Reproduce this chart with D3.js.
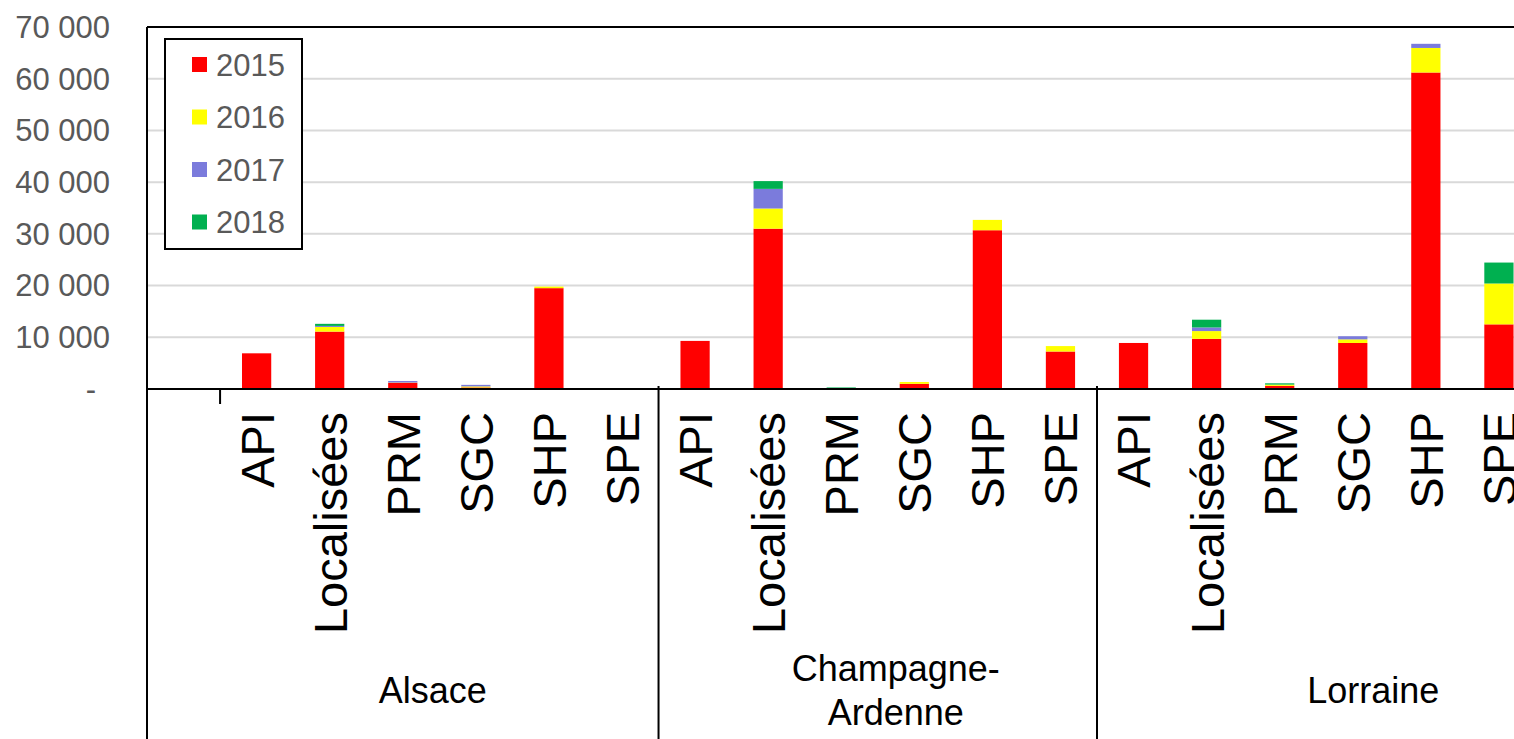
<!DOCTYPE html>
<html>
<head>
    <meta charset="utf-8"/>
    <title>Stacked bars by region</title>
    <script src="https://d3js.org/d3.v7.min.js"></script>
    <style>
        body { margin: 0; background: #ffffff; }
        svg { display: block; font-family: 'Liberation Sans', Arial, sans-serif; }
    </style>
    <script>
        // one entry per slot on the category axis (first Alsace slot is empty)
        const categories = ['', 'API', 'Localisées', 'PRM', 'SGC', 'SHP', 'SPE',
            'API', 'Localisées', 'PRM', 'SGC', 'SHP', 'SPE',
            'API', 'Localisées', 'PRM', 'SGC', 'SHP', 'SPE']
        const regionOfCategory = ['Alsace', 'Alsace', 'Alsace', 'Alsace', 'Alsace', 'Alsace', 'Alsace',
            'Champagne-Ardenne', 'Champagne-Ardenne', 'Champagne-Ardenne', 'Champagne-Ardenne', 'Champagne-Ardenne', 'Champagne-Ardenne',
            'Lorraine', 'Lorraine', 'Lorraine', 'Lorraine', 'Lorraine', 'Lorraine']
        const regions = ['Alsace', 'Champagne-Ardenne', 'Lorraine']
        const regionLabelLines = [['Alsace'], ['Champagne-', 'Ardenne'], ['Lorraine']]

        const years = ['2015', '2016', '2017', '2018']
        const values2015 = [0, 6900, 11100, 1200, 300, 19500, 0, 9300, 31000, 100, 1000, 30700, 7250, 8900, 9700, 600, 8900, 61200, 12500]
        const values2016 = [0, 0, 900, 50, 200, 300, 0, 0, 3900, 0, 350, 2000, 1050, 0, 1500, 250, 700, 4750, 7900]
        const values2017 = [0, 0, 200, 300, 300, 0, 0, 0, 3800, 0, 0, 0, 0, 0, 700, 0, 600, 800, 0]
        const values2018 = [0, 0, 400, 0, 0, 0, 0, 0, 1500, 200, 0, 0, 0, 0, 1500, 250, 0, 0, 4050]

        const yTicks = [0, 10000, 20000, 30000, 40000, 50000, 60000, 70000]

        const YEAR_COLORS = ['#ff0000', '#ffff00', '#7b7bdc', '#00b050']
        const GRID_COLOR = '#d9d9d9'
        const LABEL_GREY = '#595959'

        const width = 1514
        const height = 739
        const plot = { left: 147, top: 27, bottom: 389 }
        const slotStep = (1097 - 147) / 13

        function drawChart() {
            const svg = d3.select('#chart')
                .append('svg')
                .attr('width', width)
                .attr('height', height)

            const x = d3.scaleBand()
                .domain(d3.range(categories.length))
                .range([plot.left, plot.left + slotStep * categories.length])
                .paddingInner(0.6)
                .paddingOuter(0.3)

            const y = d3.scaleLinear()
                .domain([0, 70000])
                .range([plot.bottom, plot.top])

            drawGrid(svg, y)
            drawYLabels(svg, y)
            drawBars(svg, x, y)
            drawFrame(svg, x, y)
            drawCategoryLabels(svg, x)
            drawRegionLabels(svg, x)
            drawLegend(svg)
        }

        function drawGrid(svg, y) {
            svg.append('g')
                .selectAll('line')
                .data(yTicks.filter(t => t > 0 && t < 70000))
                .join('line')
                .attr('x1', plot.left)
                .attr('x2', width)
                .attr('y1', d => y(d))
                .attr('y2', d => y(d))
                .style('stroke', GRID_COLOR)
                .style('stroke-width', 2)
        }

        function drawYLabels(svg, y) {
            const fmt = d3.formatLocale({ decimal: ',', thousands: ' ', grouping: [3], currency: ['', ''] }).format(',')
            svg.append('g')
                .selectAll('text')
                .data(yTicks)
                .join('text')
                .attr('x', d => d === 0 ? 96 : 110)
                .attr('y', d => y(d))
                .attr('dy', '0.35em')
                .attr('text-anchor', 'end')
                .style('font-size', '31px')
                .style('fill', LABEL_GREY)
                .text(d => d === 0 ? '-' : fmt(d))
        }

        function drawBars(svg, x, y) {
            const table = categories.map((c, i) => ({
                index: i,
                '2015': values2015[i],
                '2016': values2016[i],
                '2017': values2017[i],
                '2018': values2018[i]
            }))
            const series = d3.stack().keys(years)(table)

            svg.append('g')
                .selectAll('g')
                .data(series)
                .join('g')
                .style('fill', (d, i) => YEAR_COLORS[i])
                .selectAll('rect')
                .data(d => d.filter(s => s[1] - s[0] > 0))
                .join('rect')
                .attr('x', d => x(d.data.index))
                .attr('width', x.bandwidth())
                .attr('y', d => y(d[1]))
                .attr('height', d => y(d[0]) - y(d[1]))
        }

        function drawFrame(svg, x, y) {
            const g = svg.append('g').style('stroke', '#000').style('stroke-width', 2)
            // plot border (top and left)
            g.append('line').attr('x1', plot.left).attr('x2', width).attr('y1', y(70000)).attr('y2', y(70000))
            g.append('line').attr('x1', plot.left).attr('x2', plot.left).attr('y1', y(70000)).attr('y2', height)
            // category axis
            g.append('line').attr('x1', plot.left).attr('x2', width).attr('y1', y(0)).attr('y2', y(0))

            // region separators
            const firstIndex = regions.map(r => regionOfCategory.indexOf(r))
            firstIndex.slice(1).forEach(i => {
                const bx = plot.left + i * x.step()
                g.append('line').attr('x1', bx).attr('x2', bx).attr('y1', y(0) - 3).attr('y2', height)
            })
            // small tick after the empty first slot
            const tx = plot.left + x.step()
            g.append('line').attr('x1', tx).attr('x2', tx).attr('y1', y(0)).attr('y2', y(0) + 15)
        }

        function drawCategoryLabels(svg, x) {
            svg.append('g')
                .selectAll('text')
                .data(categories.map((c, i) => ({ c, i })).filter(d => d.c !== ''))
                .join('text')
                .attr('transform', d => `translate(${x(d.i) + x.bandwidth() / 2}, 412) rotate(-90)`)
                .attr('dy', '0.36em')
                .attr('text-anchor', 'end')
                .style('font-size', '47px')
                .style('fill', '#000')
                .text(d => d.c)
        }

        function drawRegionLabels(svg, x) {
            const shift = [30, 18, 57]
            regions.forEach((r, ri) => {
                const idx = d3.range(categories.length).filter(i => regionOfCategory[i] === r)
                const x0 = plot.left + d3.min(idx) * x.step()
                const x1 = plot.left + (d3.max(idx) + 1) * x.step()
                const cx = (x0 + x1) / 2 + shift[ri]
                const lines = regionLabelLines[ri]
                const lineHeight = 44
                const top = 690 - (lines.length - 1) * lineHeight / 2
                const t = svg.append('text')
                    .attr('text-anchor', 'middle')
                    .style('font-size', '36px')
                    .style('fill', '#000')
                lines.forEach((line, li) => {
                    t.append('tspan')
                        .attr('x', cx)
                        .attr('y', top + li * lineHeight)
                        .attr('dy', '0.35em')
                        .text(line)
                })
            })
        }

        function drawLegend(svg) {
            const g = svg.append('g')
            g.append('rect')
                .attr('x', 165)
                .attr('y', 39)
                .attr('width', 137)
                .attr('height', 210)
                .style('fill', '#fff')
                .style('stroke', '#000')
                .style('stroke-width', 2)

            const rows = g.selectAll('g.row')
                .data(years)
                .join('g')
                .attr('class', 'row')
                .attr('transform', (d, i) => `translate(0, ${65 + i * 52.5})`)
            rows.append('rect')
                .attr('x', 192)
                .attr('y', -8)
                .attr('width', 15)
                .attr('height', 15)
                .style('fill', (d, i) => YEAR_COLORS[i])
            rows.append('text')
                .attr('x', 216)
                .attr('dy', '0.35em')
                .style('font-size', '31px')
                .style('fill', LABEL_GREY)
                .text(d => d)
        }
    </script>
</head>
<body onload="drawChart()">
    <div id="chart"></div>
</body>
</html>
